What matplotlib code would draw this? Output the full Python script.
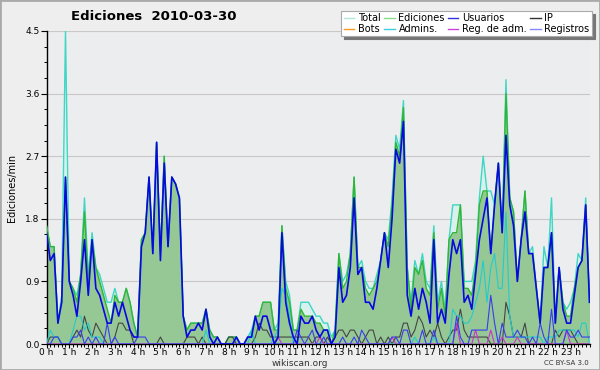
import numpy as np
import matplotlib
matplotlib.use("Agg")
import matplotlib.pyplot as plt
from matplotlib.lines import Line2D
from matplotlib.patches import Rectangle
from matplotlib.ticker import MultipleLocator, FixedLocator, FormatStrFormatter


# edits per 10-minute slot, stored as tenths of edits/min (144 slots, 00:00 -> 23:50)
total = [17, 14, 14, 3, 7, 45, 9, 8, 7, 10, 21, 10, 16, 11, 10, 8, 6, 6, 8, 6, 6, 8, 6, 3,
         1, 15, 16, 24, 13, 29, 13, 27, 14, 24, 23, 21, 4, 2, 3, 3, 3, 3, 5, 2, 1, 1, 0, 0,
         1, 1, 1, 0, 0, 1, 2, 4, 4, 6, 6, 6, 2, 3, 17, 9, 7, 2, 2, 6, 6, 6, 5, 4,
         4, 3, 3, 1, 2, 13, 9, 10, 13, 24, 11, 12, 9, 8, 8, 10, 12, 16, 15, 21, 30, 28, 35, 11,
         6, 12, 10, 13, 9, 8, 17, 6, 9, 5, 15, 20, 20, 20, 9, 9, 9, 12, 21, 27, 22, 22, 20, 26,
         16, 38, 21, 19, 9, 15, 22, 13, 14, 8, 3, 14, 11, 21, 3, 11, 6, 5, 6, 8, 13, 12, 21, 6]
ediciones = [17, 14, 14, 3, 6, 24, 9, 8, 6, 10, 19, 9, 15, 11, 9, 7, 5, 3, 7, 6, 6, 8, 6, 3,
             1, 15, 16, 24, 13, 29, 13, 27, 14, 24, 23, 21, 4, 2, 3, 3, 3, 3, 5, 2, 1, 1, 0, 0,
             1, 1, 1, 0, 0, 1, 1, 4, 4, 6, 6, 6, 2, 2, 17, 8, 6, 2, 2, 5, 4, 4, 4, 3,
             3, 2, 2, 0, 2, 13, 8, 9, 13, 24, 11, 11, 8, 7, 8, 9, 12, 16, 14, 20, 29, 27, 34, 11,
             5, 11, 10, 12, 8, 7, 16, 5, 8, 4, 15, 16, 16, 20, 8, 8, 7, 11, 20, 22, 22, 13, 20, 26,
             16, 36, 21, 19, 9, 15, 22, 13, 13, 8, 3, 11, 11, 16, 3, 11, 6, 4, 4, 8, 11, 12, 20, 6]
usuarios = [16, 12, 13, 3, 6, 24, 9, 7, 4, 9, 15, 7, 15, 8, 7, 5, 3, 3, 6, 4, 6, 4, 2, 1,
            1, 14, 16, 24, 13, 29, 12, 26, 14, 24, 23, 21, 4, 1, 2, 2, 3, 2, 5, 1, 0, 1, 0, 0,
            0, 0, 1, 0, 0, 1, 1, 4, 2, 4, 4, 2, 0, 1, 16, 6, 3, 1, 0, 4, 3, 3, 4, 2,
            1, 2, 2, 0, 1, 11, 6, 7, 11, 21, 10, 11, 6, 6, 5, 8, 12, 16, 11, 18, 28, 26, 32, 7,
            4, 8, 5, 8, 6, 3, 15, 3, 5, 3, 10, 15, 13, 15, 6, 7, 5, 10, 15, 18, 21, 13, 20, 26,
            16, 30, 20, 17, 9, 15, 19, 13, 13, 8, 3, 11, 11, 16, 3, 11, 5, 3, 3, 7, 11, 12, 20, 6]
ip = [0, 1, 1, 1, 0, 0, 0, 1, 2, 1, 4, 2, 1, 3, 2, 1, 0, 0, 1, 3, 3, 2, 2, 0,
      0, 0, 0, 0, 0, 0, 1, 0, 0, 0, 0, 0, 0, 1, 1, 1, 0, 1, 0, 0, 0, 0, 0, 0,
      1, 1, 0, 0, 0, 0, 0, 1, 3, 2, 2, 1, 1, 1, 1, 1, 1, 1, 1, 1, 1, 1, 0, 1,
      1, 0, 1, 0, 1, 2, 2, 1, 2, 2, 1, 0, 1, 2, 2, 0, 1, 0, 1, 0, 1, 1, 3, 3,
      1, 2, 4, 3, 1, 2, 1, 3, 1, 0, 1, 2, 2, 5, 2, 1, 1, 1, 1, 1, 1, 0, 0, 0,
      0, 6, 4, 1, 1, 1, 3, 0, 0, 0, 0, 0, 0, 0, 2, 1, 2, 2, 2, 1, 0, 0, 0, 0]
bots = [0] * 144
admins = [0, 2, 1, 1, 0, 0, 0, 2, 4, 4, 2, 3, 1, 1, 1, 0, 0, 0, 0, 0, 0, 0, 0, 0,
          0, 0, 0, 0, 0, 0, 0, 0, 0, 0, 0, 0, 0, 0, 0, 0, 0, 0, 2, 0, 0, 0, 0, 0,
          0, 0, 0, 0, 0, 0, 2, 0, 0, 0, 0, 0, 1, 2, 8, 7, 4, 0, 0, 0, 0, 0, 0, 0,
          0, 0, 0, 0, 0, 0, 0, 0, 0, 0, 0, 0, 0, 0, 0, 0, 0, 0, 0, 0, 0, 0, 0, 0,
          0, 1, 0, 0, 0, 0, 1, 0, 0, 0, 0, 5, 4, 4, 3, 3, 4, 6, 8, 12, 6, 11, 13, 8,
          8, 19, 4, 1, 1, 1, 1, 1, 1, 1, 1, 0, 1, 1, 1, 2, 2, 2, 2, 2, 1, 3, 3, 0]
reg_adm = [0] * 61 + [1] + [0] * 10 + [1] + [0] * 18 + [1] + [0] * 16 + [3] + [0] * 4 + \
          [2, 0, 0, 0, 2, 0, 0, 1, 0, 0, 0, 1, 0, 0, 0, 0, 0, 0, 0, 0, 0, 0, 0, 0, 2, 0, 0, 0, 0, 0, 0]
registros = [0, 0, 1, 1, 0, 0, 0, 1, 1, 2, 0, 1, 0, 1, 0, 0, 3, 0, 1, 0, 0, 0, 0, 0,
             1, 1, 1, 0, 0, 0, 0, 0, 0, 0, 0, 0, 0, 0, 0, 0, 0, 0, 0, 0, 0, 0, 0, 0,
             0, 0, 0, 0, 0, 0, 0, 0, 0, 0, 0, 0, 0, 0, 0, 0, 0, 0, 2, 1, 0, 1, 2, 0,
             0, 1, 0, 0, 0, 0, 1, 0, 0, 1, 0, 2, 1, 0, 0, 0, 0, 0, 0, 1, 1, 0, 2, 2,
             0, 0, 0, 2, 0, 0, 2, 0, 0, 0, 0, 0, 4, 1, 0, 0, 2, 2, 2, 2, 2, 7, 3, 0,
             3, 1, 1, 1, 2, 1, 1, 0, 1, 0, 3, 1, 0, 5, 0, 0, 0, 2, 1, 1, 2, 1, 1, 1]

hour_labels = [f"{h} h" for h in range(24)]

SLOT_MINUTES = 10
hours = np.arange(len(total)) * SLOT_MINUTES / 60.0


def per_min(values):
    return np.array(values) / 10.0


fig = plt.figure(figsize=(6, 3.7), dpi=100, facecolor="#eeeeee")
ax = fig.add_axes([46.5 / 600, 26 / 370, 543 / 600, 313 / 370])
ax.set_facecolor("#ecedef")

# filled areas first
ax.fill_between(hours, per_min(total), color="#d9f1ec", lw=0, zorder=1)
ax.fill_between(hours, per_min(ediciones), color="#96c896", lw=0, zorder=2)
ax.plot(hours, per_min(total), color="#3ed6c4", lw=1.0, zorder=3)
ax.plot(hours, per_min(ediciones), color="#33b533", lw=1.0, zorder=4)

ax.plot(hours, per_min(ip), color="#444444", lw=0.8, zorder=5)
ax.plot(hours, per_min(admins), color="#22cccc", lw=0.8, zorder=5)
ax.plot(hours, per_min(reg_adm), color="#cc33cc", lw=0.8, zorder=5)
ax.plot(hours, per_min(registros), color="#3b3bf0", lw=0.8, zorder=6)
ax.plot(hours, per_min(usuarios), color="#0808e0", lw=1.2, zorder=7)

ax.set_xlim(hours[0], hours[-1])
ax.set_ylim(0, 4.5)

ax.yaxis.set_major_locator(MultipleLocator(0.9))
ax.yaxis.set_minor_locator(MultipleLocator(0.225))
ax.yaxis.set_major_formatter(FormatStrFormatter("%.1f"))
ax.xaxis.set_major_locator(FixedLocator(range(24)))
ax.xaxis.set_minor_locator(MultipleLocator(1 / 6))
ax.set_xticklabels(hour_labels)
ax.tick_params(axis="both", which="major", labelsize=6.5, width=0.8, pad=1, colors="black")
ax.tick_params(axis="y", which="major", length=4)
ax.tick_params(axis="x", which="major", length=3, pad=0)
ax.tick_params(axis="both", which="minor", length=2.5, width=0.7)

ax.grid(axis="y", color="#c8c8c8", lw=0.8)
ax.set_axisbelow(True)
for side in ["top", "right"]:
    ax.spines[side].set_visible(False)
for side in ["left", "bottom"]:
    ax.spines[side].set_linewidth(1.0)

ax.set_ylabel("Ediciones/min", fontsize=7, labelpad=6)

fig.text(154 / 600, 1 - 16 / 370, "Ediciones  2010-03-30", fontsize=9.5,
         fontweight="bold", ha="center", va="center")
fig.text(0.5, 1 - 363 / 370, "wikiscan.org", fontsize=6.5, ha="center", va="center", color="#333333")
fig.text(589 / 600, 1 - 363 / 370, "CC BY-SA 3.0", fontsize=5, ha="right", va="center", color="#333333")

handles = [
    Line2D([], [], color="#aee8dd", lw=1, label="Total"),
    Line2D([], [], color="#ff9922", lw=1, label="Bots"),
    Line2D([], [], color="#88dd88", lw=1, label="Ediciones"),
    Line2D([], [], color="#44ccdd", lw=1, label="Admins."),
    Line2D([], [], color="#3333dd", lw=1, label="Usuarios"),
    Line2D([], [], color="#cc44dd", lw=1, label="Reg. de adm."),
    Line2D([], [], color="#333333", lw=1, label="IP"),
    Line2D([], [], color="#8888ff", lw=1, label="Registros"),
]
leg = fig.legend(handles=handles, ncol=4, loc="upper right",
                 bbox_to_anchor=(592 / 600, 1 - 11 / 370), fontsize=7,
                 frameon=True, fancybox=False, shadow={"color": "#777777", "alpha": 1},
                 handlelength=1.1, handletextpad=0.4, columnspacing=0.3,
                 labelspacing=0.05, borderpad=0.25, borderaxespad=0)
leg.get_frame().set_edgecolor("#aaaaaa")
leg.get_frame().set_linewidth(0.8)

fig.patches.append(Rectangle((0, 0), 1, 1, transform=fig.transFigure, fill=False,
                             edgecolor="#aaaaaa", lw=2))

fig.savefig("out.png", dpi=100, facecolor=fig.get_facecolor())
